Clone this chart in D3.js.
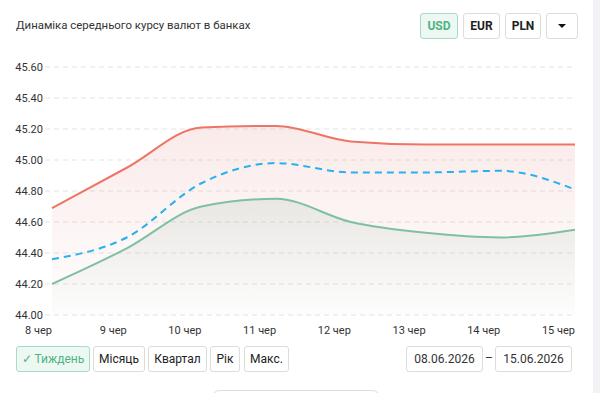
<!DOCTYPE html>
<html>
<head>
<meta charset="utf-8">
<script src="https://cdn.jsdelivr.net/npm/d3@7"></script>
<style>
  body { margin: 0; background: #fff; font-family: Roboto, "Noto Sans", sans-serif; }
  #wrap { position: relative; width: 600px; height: 393px; overflow: hidden; }
  .btn { position: absolute; box-sizing: border-box; border: 1px solid #dcdcdc; border-radius: 3px;
         background: #fff; color: #222; font-size: 12px; display: flex; align-items: center; justify-content: center; }
  .cur { font-weight: bold; font-size: 12px; }
  .active { background: #eef8f3; border-color: #a8dcc4; color: #4cb482; }
  #title { position: absolute; left: 16px; top: 18px; font-size: 11.4px; color: #333; }
  #edge { position: absolute; left: 593px; top: 0; width: 7px; height: 393px; background: #f0f2f5; }
</style>
</head>
<body>
<div id="wrap">
  <div id="title">Динаміка середнього курсу валют в банках</div>
  <div id="edge"></div>
  <svg id="chart" width="600" height="393" style="position:absolute;left:0;top:0"></svg>
</div>
<script>
const days = ["8 чер", "9 чер", "10 чер", "11 чер", "12 чер", "13 чер", "14 чер", "15 чер"];
const maxRate = [44.69, 44.95, 45.21, 45.22, 45.12, 45.10, 45.10, 45.10];
const avgRate = [44.36, 44.50, 44.85, 44.98, 44.92, 44.92, 44.93, 44.81];
const minRate = [44.20, 44.43, 44.70, 44.75, 44.60, 44.53, 44.50, 44.55];
const yTicks = [44.00, 44.20, 44.40, 44.60, 44.80, 45.00, 45.20, 45.40, 45.60];
const currencies = ["USD", "EUR", "PLN"];
const periods = ["✓ Тиждень", "Місяць", "Квартал", "Рік", "Макс."];
const dates = ["08.06.2026", "15.06.2026"];

const plotLeft = 52, plotRight = 575, plotTop = 67, plotBottom = 315;

const svg = d3.select("#chart");
const x = d3.scalePoint().domain(days).range([plotLeft, plotRight]);
const y = d3.scaleLinear().domain([44.0, 45.6]).range([plotBottom, plotTop]);

const defs = svg.append("defs");
function grad(id, color, a0) {
    const g = defs.append("linearGradient").attr("id", id)
        .attr("x1", 0).attr("y1", 0).attr("x2", 0).attr("y2", 1);
    g.append("stop").attr("offset", "0%").attr("stop-color", color).attr("stop-opacity", a0);
    g.append("stop").attr("offset", "100%").attr("stop-color", color).attr("stop-opacity", 0.01);
}
grad("gRed", "#e49a94", 0.2);
grad("gGreen", "#7aa894", 0.15);

// grid
svg.append("g").selectAll("line").data(yTicks).enter().append("line")
    .attr("x1", 45).attr("x2", plotRight)
    .attr("y1", d => y(d)).attr("y2", d => y(d))
    .attr("stroke", "#e3e3e3").attr("stroke-dasharray", "5,4");

svg.append("g").selectAll("text").data(yTicks).enter().append("text")
    .attr("x", 43).attr("y", d => y(d) + 4)
    .attr("text-anchor", "end").attr("font-size", 11).attr("fill", "#333")
    .text(d => d.toFixed(2));

svg.append("g").selectAll("text").data(days).enter().append("text")
    .attr("x", d => x(d)).attr("y", 334)
    .attr("text-anchor", "end").attr("font-size", 11).attr("fill", "#333")
    .text(d => d);

const curve = d3.curveMonotoneX;
const area = d3.area().x((d, i) => x(days[i])).y0(plotBottom).y1(d => y(d)).curve(curve);
const line = d3.line().x((d, i) => x(days[i])).y(d => y(d)).curve(curve);

svg.append("path").datum(maxRate).attr("d", area).attr("fill", "url(#gRed)");
svg.append("path").datum(minRate).attr("d", area).attr("fill", "url(#gGreen)");

svg.append("path").datum(maxRate).attr("d", line).attr("fill", "none")
    .attr("stroke", "#ee7565").attr("stroke-width", 2);
svg.append("path").datum(minRate).attr("d", line).attr("fill", "none")
    .attr("stroke", "#80c0a2").attr("stroke-width", 2);
svg.append("path").datum(avgRate).attr("d", line).attr("fill", "none")
    .attr("stroke", "#29b0f0").attr("stroke-width", 2).attr("stroke-dasharray", "7,5");

// buttons
const wrap = d3.select("#wrap");
const curX = [420, 463, 505];
const curW = [38, 37, 36];
currencies.forEach((c, i) => {
    wrap.append("div").attr("class", "btn cur" + (i === 0 ? " active" : ""))
        .style("left", curX[i] + "px").style("top", "13px")
        .style("width", curW[i] + "px").style("height", "26px").text(c);
});
const dd = wrap.append("div").attr("class", "btn")
    .style("left", "546px").style("top", "13px").style("width", "32px").style("height", "26px");
dd.append("div").style("width", 0).style("height", 0)
    .style("border-left", "4px solid transparent").style("border-right", "4px solid transparent")
    .style("border-top", "4px solid #111");

const perX = [16, 93, 148, 210, 244];
const perW = [74, 52, 59, 30, 45];
periods.forEach((p, i) => {
    wrap.append("div").attr("class", "btn" + (i === 0 ? " active" : ""))
        .style("left", perX[i] + "px").style("top", "346px")
        .style("width", perW[i] + "px").style("height", "26px").text(p);
});
const dX = [406, 495];
dates.forEach((d, i) => {
    wrap.append("div").attr("class", "btn")
        .style("left", dX[i] + "px").style("top", "346px")
        .style("width", "77px").style("height", "26px").style("color", "#333").text(d);
});
wrap.append("div").style("position", "absolute").style("left", "485px").style("top", "351px")
    .style("font-size", "12px").style("color", "#333").text("–");
wrap.append("div").style("position", "absolute").style("left", "210px").style("top", "390px")
    .style("width", "172px").style("height", "20px").style("box-sizing", "border-box")
    .style("border", "1px solid #ddd").style("border-radius", "10px");
</script>
</body>
</html>
